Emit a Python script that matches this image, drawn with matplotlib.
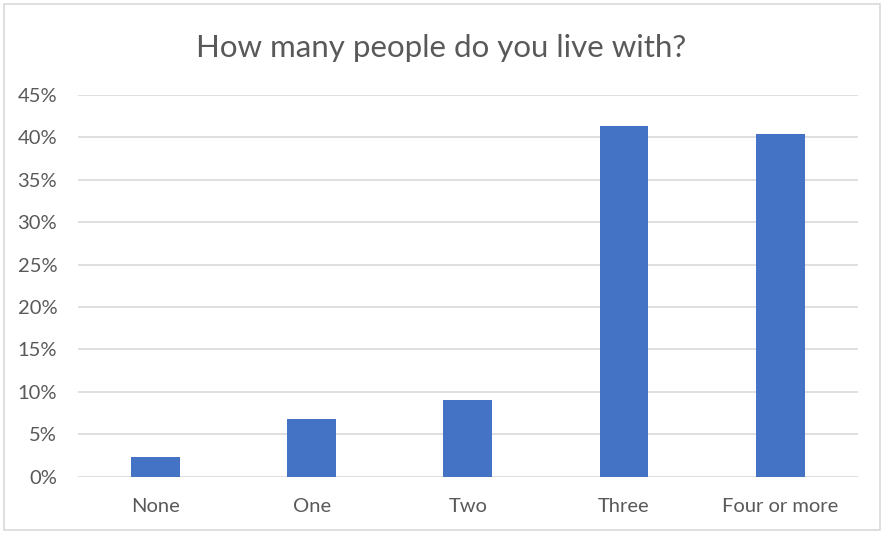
import matplotlib.pyplot as plt
from matplotlib.patches import Rectangle
from matplotlib.ticker import PercentFormatter

categories = ['None', 'One', 'Two', 'Three', 'Four or more']
shares = [0.023, 0.068, 0.091, 0.413, 0.404]

plt.rcParams['font.family'] = ['Lato', 'DejaVu Sans']
text_col = '#595959'

fig = plt.figure(figsize=(8.83, 5.33), dpi=100)
ax = fig.add_axes([0.0883, 0.1056, 0.8834, 0.7162])

x = range(len(categories))
ax.bar(x, shares, width=0.314, color='#4472C4', zorder=3)

ax.set_xlim(-0.5, len(categories) - 0.5)
ax.set_ylim(0, 0.45)
ax.set_yticks([i * 0.05 for i in range(10)])
ax.yaxis.set_major_formatter(PercentFormatter(1.0, decimals=0))
ax.set_xticks(list(x))
ax.set_xticklabels(categories)
ax.tick_params(axis='both', length=0, labelsize=14.5, colors=text_col)
ax.tick_params(axis='x', pad=15)
ax.tick_params(axis='y', pad=15)
ax.grid(axis='y', color='#D9D9D9', linewidth=1.2, zorder=0)
for sp in ax.spines.values():
    sp.set_visible(False)

fig.text(0.5, 0.91, 'How many people do you live with?', ha='center', va='center',
         fontsize=22.5, color=text_col)

# ramka wokół wykresu
fig.patches.append(Rectangle((0.005, 0.006), 0.992, 0.986, transform=fig.transFigure,
                             fill=False, edgecolor='#D9D9D9', linewidth=1.2))

fig.savefig('out.png', dpi=100)
